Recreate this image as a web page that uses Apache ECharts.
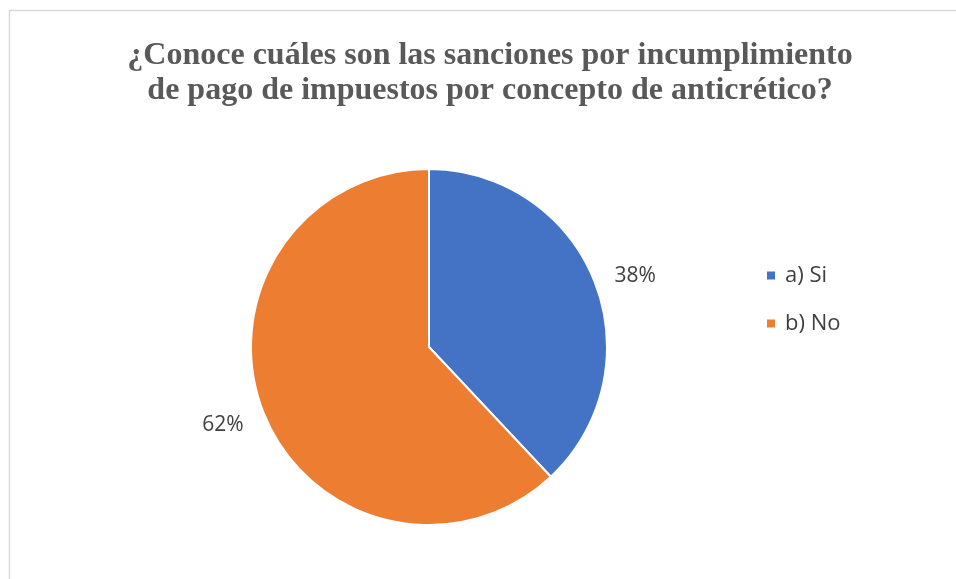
<!DOCTYPE html>
<html>
<head>
<meta charset="utf-8">
<script src="https://cdn.jsdelivr.net/npm/echarts@6/dist/echarts.min.js"></script>
<style>html,body{margin:0;padding:0;background:#fff}#c{width:956px;height:579px}</style>
</head>
<body>
<div id="c"></div>
<script>
const titleText = "¿Conoce cuáles son las sanciones por incumplimiento\nde pago de impuestos por concepto de anticrético?";
const categories = ["a) Si", "b) No"];
const values = [38, 62];
const colors = ["#4472C4", "#ED7D31"];

const chart = echarts.init(document.getElementById('c'), null, {renderer: 'canvas'});
chart.setOption({
  backgroundColor: '#ffffff',
  animation: false,
  graphic: [{
    type: 'rect',
    shape: {x: 9.5, y: 10.5, width: 1000, height: 700},
    style: {fill: null, stroke: '#d9d9d9', lineWidth: 1.5},
    silent: true
  }],
  title: {
    text: titleText,
    left: 485,
    top: 33,
    textAlign: 'center',
    textStyle: {
      fontFamily: '"Liberation Serif", "Times New Roman", serif',
      fontWeight: 'bold',
      fontSize: 32,
      lineHeight: 35,
      color: '#595959'
    }
  },
  legend: {
    orient: 'vertical',
    left: 760,
    top: 259,
    itemWidth: 10,
    itemHeight: 10,
    itemGap: 25,
    icon: 'rect',
    data: categories,
    textStyle: {
      fontFamily: '"Open Sans", sans-serif',
      fontSize: 22,
      lineHeight: 23,
      color: '#404040',
      padding: [0, 0, 0, 4]
    }
  },
  series: [{
    type: 'pie',
    center: [429, 347],
    radius: 178,
    startAngle: 90,
    clockwise: true,
    color: colors,
    itemStyle: {borderColor: '#ffffff', borderWidth: 2},
    label: {
      show: true,
      position: 'outside',
      formatter: function (p) { return p.value + '%'; },
      fontFamily: '"Open Sans", sans-serif',
      fontSize: 21,
      color: '#404040',
      distanceToLabelLine: 5
    },
    labelLine: {show: false, length: 16, length2: 0},
    labelLayout: function (p) { return p.dataIndex === 1 ? {dy: 7} : {}; },
    emphasis: {disabled: true},
    data: categories.map((c, i) => ({name: c, value: values[i]}))
  }]
});
</script>
</body>
</html>
